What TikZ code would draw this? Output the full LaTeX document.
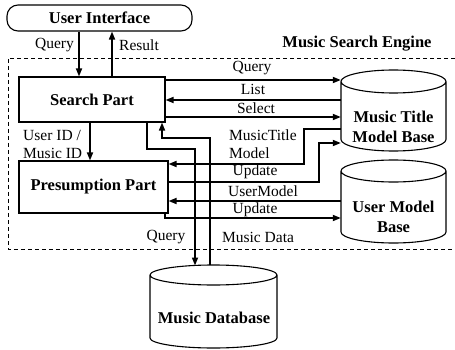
\documentclass[tikz,border=0pt]{standalone}
\usepackage{fontspec}
\setmainfont{Liberation Serif}
\usetikzlibrary{arrows.meta}
% drum (database) outline: x-left, x-right, y of top ellipse centre, y of bottom ellipse centre, radii
\newcommand\drawdrum[6]{%
  \draw[drum] (#1,#3) -- (#1,#4)
    arc[start angle=180,end angle=360,x radius=#5pt,y radius=#6pt] -- (#2,#3)
    arc[start angle=0,end angle=180,x radius=#5pt,y radius=#6pt]
    arc[start angle=180,end angle=360,x radius=#5pt,y radius=#6pt];}
\begin{document}
\begin{tikzpicture}[x=1pt,y=-1pt,
  lbl/.style={font=\fontsize{15.5}{18}\selectfont, inner sep=0pt, align=left},
  title/.style={font=\fontsize{16.5}{20}\selectfont\bfseries, inner sep=0pt, align=center},
  partbox/.style={draw, line width=1.1pt},
  anchorbox/.style={inner sep=0pt},
  flow/.style={line width=1.6pt, -{Triangle[length=8pt,width=6pt]}},
  wire/.style={line width=1.6pt},
  drum/.style={line width=1.1pt, fill=white},
  frame/.style={line width=0.9pt, dash pattern=on 4pt off 3pt}]
\useasboundingbox (0,0) rectangle (455,350);

% engine boundary
\draw[frame] (455,58) -- (8,58) -- (8,249) -- (455,249);
\node[title] (engine) at (357,44) {Music Search Engine};

% parts
\node[partbox, title, rounded corners=11pt, minimum width=185pt, minimum height=26pt] (ui) at (99.5,18) {User Interface};
\node[partbox, title, minimum width=146pt, minimum height=45pt] (search) at (92,99.5) {Search Part};
\node[partbox, title, minimum width=149pt, minimum height=52pt] (presump) at (93.5,187) {Presumption Part};

% data stores
\node[anchorbox, minimum width=105pt, minimum height=81pt] (mtmb) at (393.5,110.5) {};
\node[anchorbox, minimum width=105pt, minimum height=83pt] (umb) at (393.5,201.5) {};
\node[anchorbox, minimum width=127pt, minimum height=83pt] (db) at (213.5,306.5) {};
\drawdrum{341}{446}{81.5}{139.5}{52.5}{11.5}
\drawdrum{341}{446}{171}{232}{52.5}{11}
\drawdrum{150}{277}{275}{338}{63.5}{10}
\node[title] (mtmbtext) at (393.5,127) {Music Title\\Model Base};
\node[title] (umbtext) at (393.5,216.5) {User Model\\Base};
\node[title] (dbtext) at (214,318) {Music Database};

% reference positions for the connectors
\coordinate (xq) at (79,0);
\coordinate (xr) at (112,0);
\coordinate (xid) at (90,0);
\coordinate (xdq) at (147,0);
\coordinate (xdd) at (162,0);
\coordinate (xup) at (165,0);
\coordinate (yq) at (0,80);
\coordinate (yl) at (0,100);
\coordinate (ys) at (0,117);
\coordinate (ymt) at (0,164);
\coordinate (yu1) at (0,182);
\coordinate (yum) at (0,201);
\coordinate (yu2) at (0,218);

% user interface <-> search part
\draw[flow] (ui.south -| xq) -- (search.north -| xq);
\draw[flow] (search.north -| xr) -- (ui.south -| xr);
\node[lbl, anchor=east] (lq) at (74,45) {Query};
\node[lbl, anchor=west] (lr) at (119,45) {Result};

% search part -> presumption part
\draw[flow] (search.south -| xid) -- (presump.north -| xid);
\node[lbl, anchor=west] (lid) at (23,144) {User ID /\\Music ID};

% search part <-> music database
\draw[flow] (search.south -| xdq) -- (147,149) -- (195,149) -- (195,265.5);
\draw[flow] (210,265) -- (210,138) -- (162,138) -- (search.south -| xdd);
\node[lbl] (ldq) at (166,237) {Query};
\node[lbl] (ldd) at (258,237) {Music Data};

% search part <-> music title model base
\draw[flow] (search.east |- yq) -- (mtmb.west |- yq);
\draw[flow] (mtmb.west |- yl) -- (search.east |- yl);
\draw[flow] (search.east |- ys) -- (mtmb.west |- ys);
\node[lbl] (lq2) at (252,68) {Query};
\node[lbl] (ll) at (253,89) {List};
\node[lbl] (ls) at (256,108) {Select};

% presumption part <-> model bases
\draw[flow] (mtmb.west |- 0,129) -- (304,129) -- (304,164) -- (presump.east |- ymt);
\draw[flow] (presump.east |- yu1) -- (319,182) -- (319,143) -- (mtmb.west |- 0,143);
\draw[flow] (umb.west |- yum) -- (presump.east |- yum);
\draw[flow] (presump.south -| xup) -- (xup |- yu2) -- (umb.west |- yu2);
\node[lbl, anchor=west] (lmt) at (229,144) {MusicTitle\\Model};
\node[lbl] (lu1) at (255,172) {Update};
\node[lbl] (lum) at (263,191) {UserModel};
\node[lbl] (lu2) at (255,210) {Update};
\end{tikzpicture}
\end{document}
